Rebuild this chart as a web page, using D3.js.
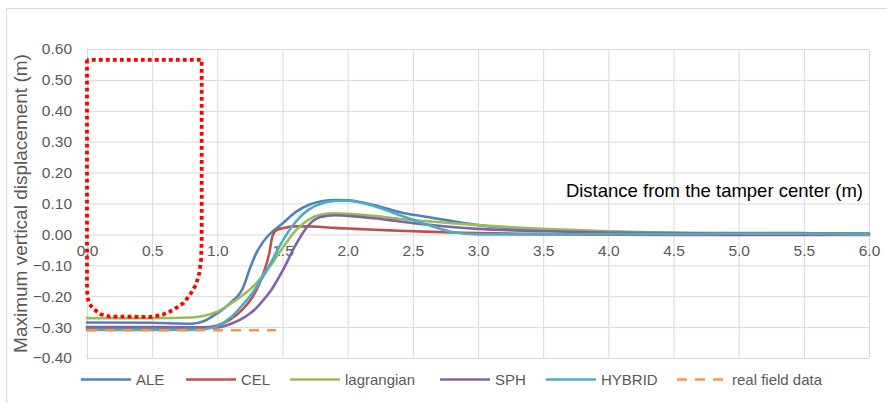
<!DOCTYPE html>
<html>
<head>
<meta charset="utf-8">
<script src="https://cdn.jsdelivr.net/npm/d3@7/dist/d3.min.js"></script>
<style>
  html, body { margin: 0; padding: 0; background: #ffffff; }
  svg { display: block; font-family: "Liberation Sans", Arial, sans-serif; }
</style>
</head>
<body>
<svg id="chart" width="887" height="403"></svg>
<script>
// Distance from the tamper center (m)
const distance = [0, 0.5, 0.8, 0.9, 1.0, 1.1, 1.2, 1.25, 1.3, 1.35, 1.4, 1.42, 1.45, 1.5, 1.6, 1.7, 1.8, 1.9, 2.0, 2.2, 2.4, 2.6, 2.8, 3.0, 3.5, 4.0, 4.5, 5.0, 5.5, 6.0];

// Maximum vertical displacement (m) per method
const ale        = [-0.285, -0.286, -0.289, -0.280, -0.255, -0.222, -0.170, -0.110, -0.060, -0.025, 0.000, 0.008, 0.018, 0.035, 0.072, 0.095, 0.107, 0.111, 0.110, 0.095, 0.072, 0.057, 0.043, 0.030, 0.015, 0.008, 0.004, 0.004, 0.004, 0.002];
const cel        = [-0.302, -0.302, -0.302, -0.301, -0.295, -0.275, -0.240, -0.215, -0.180, -0.130, -0.058, -0.010, 0.013, 0.020, 0.026, 0.026, 0.024, 0.021, 0.019, 0.015, 0.012, 0.009, 0.006, 0.004, 0.001, -0.001, -0.002, -0.002, -0.002, -0.002];
const lagrangian = [-0.271, -0.271, -0.269, -0.263, -0.250, -0.225, -0.195, -0.178, -0.158, -0.132, -0.105, -0.094, -0.075, -0.045, 0.012, 0.048, 0.064, 0.068, 0.067, 0.060, 0.050, 0.043, 0.036, 0.030, 0.018, 0.010, 0.005, 0.003, 0.002, 0.001];
const sph        = [-0.300, -0.300, -0.301, -0.302, -0.301, -0.290, -0.270, -0.256, -0.238, -0.214, -0.188, -0.176, -0.155, -0.118, -0.035, 0.030, 0.057, 0.062, 0.060, 0.052, 0.042, 0.032, 0.024, 0.018, 0.010, 0.006, 0.004, 0.003, 0.003, 0.002];
const hybrid     = [-0.309, -0.309, -0.309, -0.307, -0.297, -0.270, -0.225, -0.200, -0.170, -0.137, -0.100, -0.085, -0.060, -0.022, 0.040, 0.080, 0.100, 0.108, 0.109, 0.092, 0.062, 0.033, 0.008, 0.000, 0.000, 0.001, 0.001, 0.002, 0.002, 0.001];

// Measured settlement under the tamper
const fieldX = [0, 1.45];
const fieldY = [-0.31, -0.31];

// Tamper outline
const tamperX = [0, 0, 0.003, 0.008, 0.02, 0.048, 0.1, 0.177, 0.5, 0.58, 0.66, 0.74, 0.79, 0.836, 0.862, 0.875, 0.88, 0.88, 0];
const tamperY = [0.565, -0.18, -0.197, -0.21, -0.226, -0.240, -0.258, -0.266, -0.267, -0.260, -0.245, -0.222, -0.196, -0.163, -0.125, -0.083, -0.02, 0.565, 0.565];

const xTicks = [0, 0.5, 1.0, 1.5, 2.0, 2.5, 3.0, 3.5, 4.0, 4.5, 5.0, 5.5, 6.0];
const yTicks = [-0.4, -0.3, -0.2, -0.1, 0, 0.1, 0.2, 0.3, 0.4, 0.5, 0.6];

const seriesNames  = ["ALE", "CEL", "lagrangian", "SPH", "HYBRID"];
const seriesValues = [ale, cel, lagrangian, sph, hybrid];
const seriesColors = ["#4F81BD", "#C0504D", "#9BBB59", "#8064A2", "#4BACC6"];
const fieldName = "real field data";
const fieldColor = "#F79646";
const tamperColor = "#FF0000";

const svg = d3.select("#chart");
const plot = { left: 87, right: 869, top: 49, bottom: 358 };

const x = d3.scaleLinear().domain([0, 6]).range([plot.left, plot.right]);
const y = d3.scaleLinear().domain([-0.4, 0.6]).range([plot.bottom, plot.top]);

// chart frame
svg.append("rect")
  .attr("x", 6.5).attr("y", 8.5)
  .attr("width", 900).attr("height", 420)
  .attr("fill", "none").attr("stroke", "#d9d9d9").attr("stroke-width", 1);

// horizontal gridlines + value labels
const yAxis = svg.append("g")
  .attr("transform", `translate(${plot.left},0)`)
  .call(d3.axisLeft(y).tickValues(yTicks).tickFormat(d3.format(".2f"))
    .tickSize(-(plot.right - plot.left)).tickPadding(15));
yAxis.select(".domain").remove();
yAxis.selectAll(".tick line").attr("stroke", "#d9d9d9").attr("stroke-width", 1);
yAxis.selectAll(".tick text")
  .attr("fill", "#595959").style("font-size", "15.5px")
  .style("font-family", "'Liberation Sans', Arial, sans-serif");

// vertical gridlines
const xGrid = svg.append("g")
  .attr("transform", `translate(0,${plot.bottom})`)
  .call(d3.axisBottom(x).tickValues(xTicks).tickSize(-(plot.bottom - plot.top)).tickFormat(""));
xGrid.select(".domain").remove();
xGrid.selectAll(".tick line").attr("stroke", "#d9d9d9").attr("stroke-width", 1);

// distance labels sit below the zero line
const xAxis = svg.append("g")
  .attr("transform", `translate(0,${y(0)})`)
  .call(d3.axisBottom(x).tickValues(xTicks).tickFormat(d3.format(".1f")).tickSize(0).tickPadding(11));
xAxis.select(".domain").remove();
xAxis.selectAll(".tick text")
  .attr("fill", "#595959").style("font-size", "15.5px")
  .style("font-family", "'Liberation Sans', Arial, sans-serif");

// simulated curves
const line = d3.line()
  .x((d, i) => x(distance[i]))
  .y(d => y(d))
  .curve(d3.curveMonotoneX);

const seriesG = svg.append("g");
seriesValues.forEach((vals, k) => {
  seriesG.append("path")
    .attr("d", line(vals))
    .attr("fill", "none")
    .attr("stroke", seriesColors[k])
    .attr("stroke-width", 2.6)
    .attr("stroke-linejoin", "round")
    .attr("stroke-linecap", "round");
});

// field measurement
const pairLine = d3.line().x(d => x(d[0])).y(d => y(d[1]));
svg.append("path")
  .attr("d", pairLine(d3.zip(fieldX, fieldY)))
  .attr("fill", "none")
  .attr("stroke", fieldColor)
  .attr("stroke-width", 2.6)
  .attr("stroke-dasharray", "10,8");

// tamper outline
svg.append("path")
  .attr("d", pairLine(d3.zip(tamperX, tamperY)))
  .attr("fill", "none")
  .attr("stroke", tamperColor)
  .attr("stroke-width", 3.8)
  .attr("stroke-dasharray", "3.8,3.2");

// axis titles
svg.append("text")
  .attr("x", 863).attr("y", 197)
  .attr("text-anchor", "end")
  .attr("fill", "#000000")
  .style("font-size", "18.5px")
  .text("Distance from the tamper center (m)");

svg.append("text")
  .attr("transform", `translate(27,${(plot.top + plot.bottom) / 2}) rotate(-90)`)
  .attr("text-anchor", "middle")
  .attr("fill", "#595959")
  .style("font-size", "19px")
  .text("Maximum vertical displacement (m)");

// legend
const legendItems = seriesNames.map((n, k) => ({ name: n, color: seriesColors[k], dash: null }))
  .concat([{ name: fieldName, color: fieldColor, dash: "10,8" }]);
const legendX = [81, 186, 290, 440, 546, 677];
const legendY = 379.5;
const lg = svg.append("g");
legendItems.forEach((it, k) => {
  const g = lg.append("g").attr("transform", `translate(${legendX[k]},${legendY})`);
  g.append("line")
    .attr("x1", 0).attr("x2", 50).attr("y1", 0).attr("y2", 0)
    .attr("stroke", it.color).attr("stroke-width", 2.6)
    .attr("stroke-dasharray", it.dash);
  g.append("text")
    .attr("x", 55).attr("y", 0).attr("dy", "0.35em")
    .attr("fill", "#595959")
    .style("font-size", "15px")
    .text(it.name);
});
</script>
</body>
</html>
